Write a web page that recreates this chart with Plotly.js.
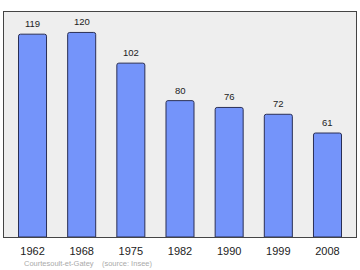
<!DOCTYPE html>
<html><head><meta charset="utf-8">
<script src="https://cdn.plot.ly/plotly-3.0.1.min.js"></script>
<style>body{margin:0;background:#fff}#c{width:360px;height:270px}</style>
</head><body><div id="c"></div>
<script>
const years = ["1962","1968","1975","1982","1990","1999","2008"];
const population = [119,120,102,80,76,72,61];
const footer = "Courtesoult-et-Gatey    (source: Insee)";

const FONT = "Liberation Sans, Arial, sans-serif";
const trace = {
  type: "bar", x: years, y: population,
  marker: {color: "#7494fa", line: {color: "#2a2f55", width: 1}, cornerradius: 2},
  width: 0.57, hoverinfo: "none"
};
const ann = years.map((yr, i) => ({
  x: i, y: population[i], xref: "x", yref: "y", text: String(population[i]),
  showarrow: false, yanchor: "bottom", yshift: 3,
  font: {family: FONT, size: 9.5, color: "#222"}
}));
ann.push({xref: "paper", yref: "paper", x: 0.051, y: -0.116, xanchor: "left", yanchor: "middle",
  text: footer, showarrow: false, font: {family: FONT, size: 7.5, color: "#aaaaaa"}});

Plotly.newPlot("c", [trace], {
  width: 360, height: 270,
  margin: {l: 4, r: 4, t: 12, b: 33},
  paper_bgcolor: "#fff", plot_bgcolor: "#eeeeee",
  showlegend: false,
  xaxis: {type: "category", range: [-0.58, years.length - 0.42], autorange: false,
    showline: true, mirror: true, linecolor: "#444", linewidth: 1,
    ticks: "", ticklabelstandoff: 4, showgrid: false, tickfont: {family: FONT, size: 11, color: "#222"}},
  yaxis: {range: [0, 132], autorange: false, showline: true, mirror: true, linecolor: "#444", linewidth: 1,
    showticklabels: false, ticks: "", showgrid: false, zeroline: false},
  annotations: ann
}, {staticPlot: true});
</script></body></html>
